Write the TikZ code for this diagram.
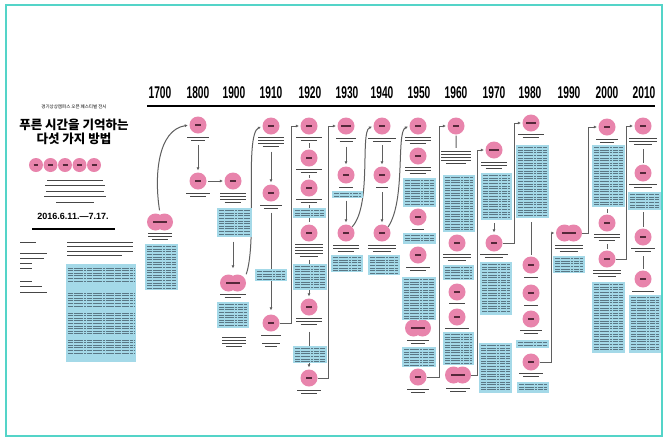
\documentclass[tikz,border=0pt]{standalone}
\usepackage{fontspec}
\newfontfamily\krfont{Noto Sans CJK KR}
\newfontfamily\yrfont{Liberation Sans}
\usetikzlibrary{arrows.meta}

\definecolor{pinkc}{RGB}{232,132,172}
\definecolor{boxc}{RGB}{164,217,232}
\definecolor{framec}{RGB}{84,212,200}
\definecolor{connc}{RGB}{95,95,95}
\definecolor{inkc}{RGB}{70,70,70}
\definecolor{boxinkc}{RGB}{60,78,92}
\definecolor{dotinkc}{RGB}{85,40,58}

\tikzset{
	ycirc/.style={circle, fill=pinkc, minimum size=17pt, inner sep=0pt, text=dotinkc},
	dblc/.style={rectangle, minimum width=26pt, minimum height=17pt, inner sep=0pt, text=dotinkc},
	infobox/.style={rectangle, fill=boxc, inner sep=0pt, outer sep=0pt},
	conn/.style={draw=connc, line width=1pt},
	arr/.style={conn, -{Latex[length=3pt,width=3pt]}},
	captxt/.style={draw=inkc, line width=1pt},
	boxtxt/.style={draw=boxinkc, line width=0.85pt, opacity=0.7, dash pattern=on 5pt off 0.7pt on 3pt off 0.7pt on 6pt off 0.7pt on 2pt off 0.7pt},
	yearlbl/.style={font=\yrfont\bfseries\fontsize{17}{17}\selectfont, inner sep=0pt}
}

\newcommand{\yl}{\rule{6pt}{1.8pt}}
\newcommand{\wl}{\rule{10pt}{1.8pt}}
\newcommand{\dblcirc}[3]{%
	\fill[pinkc] ({#2-4.5},#3) circle (8.5pt) ({#2+4.5},#3) circle (8.5pt);
	\node[dblc] (#1) at (#2,#3) {\rule{14pt}{1.8pt}};}
\newcommand{\captlines}[4]{%
	\foreach \k in {1,...,#4}{
		\pgfmathsetmacro{\f}{1-0.35*(\k==#4)*(#4>1)}
		\draw[captxt] ({#1-#3*\f/2},{#2+(\k-1)*3.2}) -- ({#1+#3*\f/2},{#2+(\k-1)*3.2});
	}}
\newcommand{\infobox}[5]{%
	\node[infobox, minimum width={#4-#2}, minimum height={#5-#3}] (#1) at ({(#2+#4)/2},{(#3+#5)/2}) {};
	\pgfmathtruncatemacro{\nl}{(#5-#3-4)/2.6}
	\foreach \k in {0,...,\nl}{
		\draw[boxtxt] ({#2+2},{#3+2.6+\k*2.6}) -- ({#4-2},{#3+2.6+\k*2.6});
	}}

\begin{document}
\begin{tikzpicture}[x=1pt, y=-1pt]
	\fill[white] (0,0) rectangle (664,440);
	\useasboundingbox (0,0) rectangle (664,440);
	\draw[framec, line width=1.2pt] (6,5) rectangle (662,436);

	% left panel
	\node[font=\krfont\fontsize{4.5}{5}\selectfont] (sub) at (74,107) {경기상상캠퍼스 오픈 페스티벌 전시};
	\node[font=\krfont\bfseries\fontsize{12.5}{13.5}\selectfont, align=center] (title) at (74,132) {푸른 시간을 기억하는\\다섯 가지 방법};
	\foreach \i/\xx in {1/36, 2/50.5, 3/65, 4/79.5, 5/94}{
		\node[ycirc, minimum size=14pt] (m\i) at (\xx,165) {\rule{5pt}{1.4pt}};
	}
	\foreach \yy/\w in {180/56, 185.5/60, 191/58, 196.5/62, 202/38}{
		\draw[captxt, line width=0.9pt] ({75-\w/2},\yy) -- ++(\w,0);
	}
	\node[font=\yrfont\bfseries\fontsize{9}{10}\selectfont] (date) at (73,216.5) {2016.6.11.—7.17.};
	\draw[line width=1.5pt] (32,229) -- (115,229);
	\foreach \yy/\w in {242/16, 253/27, 258/24, 263/12, 268/12, 281/12, 286/22, 292/27}{
		\draw[captxt, line width=0.9pt] (20,\yy) -- ++(\w,0);
	}
	\foreach \yy/\w in {242/66, 246.5/66, 251/66, 255.5/55}{
		\draw[captxt, line width=0.9pt] (67,\yy) -- ++(\w,0);
	}
	\node[infobox, minimum width=70pt, minimum height=98pt] (bleft) at (101,313) {};
	\foreach \ys/\n in {268/6, 293/6, 313/9, 340/6}{
		\foreach \k in {1,...,\n}{
			\draw[boxtxt] (68,{\ys+(\k-1)*2.6}) -- (134,{\ys+(\k-1)*2.6});
		}
	}

	% years
	\foreach \xx/\yr in {160/1700, 198/1800, 234/1900, 271/1910, 310/1920, 347/1930, 382/1940, 419/1950, 456/1960, 494/1970, 530/1980, 569/1990, 607/2000, 644/2010}{
		\node[yearlbl] (y\yr) at (\xx,93) {\scalebox{0.6}[1]{\yr}};
	}
	\draw[line width=1.6pt] (147,106) -- (655,106);

	% circles
	\dblcirc{c1700}{160}{222}
	\node[ycirc] (c1800a) at (198,125) {\yl};
	\node[ycirc] (c1800b) at (198,181) {\yl};
	\node[ycirc] (c1900a) at (233,181) {\yl};
	\dblcirc{c1900b}{233}{283}
	\node[ycirc] (c1910a) at (271,126) {\yl};
	\node[ycirc] (c1910b) at (271,193) {\yl};
	\node[ycirc] (c1910c) at (271,323) {\yl};
	\node[ycirc] (c1920a) at (309,126) {\yl};
	\node[ycirc] (c1920b) at (309,158) {\yl};
	\node[ycirc] (c1920c) at (309,188) {\yl};
	\node[ycirc] (c1920d) at (309,233) {\yl};
	\node[ycirc] (c1920e) at (309,307) {\yl};
	\node[ycirc] (c1920f) at (309,378) {\yl};
	\node[ycirc] (c1930a) at (346,126) {\wl};
	\node[ycirc] (c1930b) at (346,175) {\yl};
	\node[ycirc] (c1930c) at (346,233) {\yl};
	\node[ycirc] (c1940a) at (382,126) {\yl};
	\node[ycirc] (c1940b) at (382,175) {\yl};
	\node[ycirc] (c1940c) at (382,233) {\yl};
	\node[ycirc] (c1950a) at (418,126) {\yl};
	\node[ycirc] (c1950b) at (418,156) {\yl};
	\node[ycirc] (c1950c) at (418,217) {\yl};
	\node[ycirc] (c1950d) at (418,255) {\yl};
	\dblcirc{c1950e}{418}{328}
	\node[ycirc] (c1950f) at (418,377) {\yl};
	\node[ycirc] (c1960a) at (456,126) {\yl};
	\node[ycirc] (c1960b) at (457,243) {\yl};
	\node[ycirc] (c1960c) at (457,292) {\yl};
	\node[ycirc] (c1960d) at (457,317) {\yl};
	\dblcirc{c1960e}{458}{375}
	\node[ycirc] (c1970a) at (494,150) {\wl};
	\node[ycirc] (c1970b) at (494,243) {\yl};
	\node[ycirc] (c1980a) at (531,123) {\wl};
	\node[ycirc] (c1980b) at (531,265) {\yl};
	\node[ycirc] (c1980c) at (531,293) {\yl};
	\node[ycirc] (c1980d) at (531,319) {\yl};
	\node[ycirc] (c1980e) at (531,362) {\yl};
	\dblcirc{c1990}{569}{233}
	\node[ycirc] (c2000a) at (607,127) {\yl};
	\node[ycirc] (c2000b) at (607,223) {\yl};
	\node[ycirc] (c2000c) at (607,259) {\yl};
	\node[ycirc] (c2010a) at (643,126) {\yl};
	\node[ycirc] (c2010b) at (643,173) {\yl};
	\node[ycirc] (c2010c) at (643,237) {\yl};
	\node[ycirc] (c2010d) at (643,279) {\yl};

	% captions
	\captlines{160}{233}{24}{3}
	\captlines{198}{137}{22}{2}
	\captlines{198}{193}{24}{2}
	\captlines{233}{193}{26}{4}
	\captlines{233}{294}{26}{2}
	\captlines{234}{337}{24}{4}
	\captlines{271}{137}{26}{4}
	\captlines{271}{205}{22}{2}
	\captlines{271}{335}{20}{1}
	\captlines{271}{343}{18}{2}
	\captlines{309}{137}{26}{2}
	\captlines{309}{169}{26}{2}
	\captlines{309}{199}{26}{2}
	\captlines{309}{244}{28}{5}
	\captlines{309}{318}{26}{3}
	\captlines{309}{390}{24}{2}
	\captlines{346}{138}{20}{2}
	\captlines{346}{187}{14}{1}
	\captlines{346}{245}{26}{3}
	\captlines{382}{138}{28}{2}
	\captlines{382}{187}{12}{1}
	\captlines{382}{245}{28}{3}
	\captlines{418}{137}{26}{3}
	\captlines{418}{167}{26}{3}
	\captlines{418}{229}{12}{1}
	\captlines{418}{267}{24}{2}
	\captlines{418}{340}{22}{2}
	\captlines{418}{389}{22}{2}
	\captlines{456}{151}{30}{5}
	\captlines{457}{254}{28}{3}
	\captlines{457}{303}{16}{1}
	\captlines{457}{328}{24}{1}
	\captlines{458}{388}{24}{2}
	\captlines{494}{162}{26}{3}
	\captlines{494}{254}{28}{2}
	\captlines{531}{134}{26}{2}
	\captlines{531}{277}{14}{1}
	\captlines{531}{305}{14}{1}
	\captlines{531}{330}{22}{2}
	\captlines{531}{373}{24}{2}
	\captlines{569}{245}{28}{3}
	\captlines{607}{139}{22}{2}
	\captlines{607}{234}{26}{3}
	\captlines{607}{270}{28}{3}
	\captlines{643}{138}{28}{3}
	\captlines{643}{184}{28}{2}
	\captlines{643}{248}{24}{2}
	\captlines{643}{291}{22}{1}

	% connectors
	\draw[arr, shorten <=3pt, shorten >=1.5pt] (c1700.north) .. controls (154,175) and (158,130) .. (c1800a.west);
	\draw[arr, shorten <=11pt, shorten >=2pt] (c1800a) -- (c1800b);
	\draw[arr, shorten <=1.5pt, shorten >=1.5pt] (c1800b) -- (c1900a);
	\draw[arr, shorten <=52pt, shorten >=6pt] (c1900a) -- (c1900b);
	\draw[arr, shorten >=1.5pt] (c1900b.north east) .. controls (258,240) and (244,135) .. (c1910a.west);
	\draw[arr, shorten <=17pt, shorten >=2pt] (c1910a) -- (c1910b);
	\draw[arr, shorten <=11pt, shorten >=4pt] (c1910b) -- (c1910c);
	\draw[arr, shorten >=1.5pt] (c1910c.east) -- ++(11.5,0) |- (c1920a.west);
	\draw[conn, shorten <=8.5pt, shorten >=1.5pt] (c1920a) -- (c1920b);
	\draw[conn, shorten <=8.5pt, shorten >=1.5pt] (c1920b) -- (c1920c);
	\draw[conn, shorten <=8pt, shorten >=2pt] (c1920c) -- (c1920d);
	\draw[arr, shorten <=18pt, shorten >=2pt] (c1920d) -- (c1920e);
	\draw[arr, shorten <=16pt, shorten >=2pt] (c1920e) -- (c1920f);
	\draw[arr, shorten >=1.5pt] (c1920f.east) -- ++(11,0) |- (c1930a.west);
	\draw[arr, shorten <=12pt, shorten >=2pt] (c1930a) -- (c1930b);
	\draw[arr, shorten <=17pt, shorten >=2pt] (c1930b) -- (c1930c);
	\draw[arr, shorten >=1.5pt] (c1930c.north east) .. controls (372,205) and (360,132) .. (c1940a.west);
	\draw[arr, shorten <=10.5pt, shorten >=2pt] (c1940a) -- (c1940b);
	\draw[arr, shorten <=8.5pt, shorten >=2pt] (c1940b) -- (c1940c);
	\draw[arr, shorten >=1.5pt] (c1940c.north east) .. controls (406,200) and (396,132) .. (c1950a.west);
	\draw[arr, shorten >=1.5pt] (c1950f.east) -- ++(13,0) |- (c1960a.west);
	\draw[conn, shorten <=1pt, shorten >=86.5pt] (c1960a) -- (c1960b);
	\draw[arr, shorten >=1.5pt] (c1960e.east) -- ++(6,0) |- (c1970a.west);
	\draw[arr, shorten <=64.5pt, shorten >=2pt] (c1970a) -- (c1970b);
	\draw[arr, shorten >=1.5pt] (c1970b.east) -- ++(11.5,0) |- (c1980a.west);
	\draw[conn, shorten <=90.5pt, shorten >=1.5pt] (c1980a) -- (c1980b);
	\draw[arr, shorten >=1.5pt] (c1980e.east) -- ++(11.5,0) |- (c1990.west);
	\draw[arr, shorten >=1.5pt] (c1990.east) -- ++(6,0) |- (c2000a.west);
	\draw[conn, shorten <=73.5pt, shorten >=1pt] (c2000a) -- (c2000b);
	\draw[conn, shorten <=12.5pt, shorten >=1pt] (c2000b) -- (c2000c);
	\draw[arr, shorten >=1.5pt] (c2000c.east) -- ++(11,0) |- (c2010a.west);
	\draw[conn, shorten <=14.5pt, shorten >=1.5pt] (c2010a) -- (c2010b);
	\draw[conn, shorten <=30.5pt, shorten >=1.5pt] (c2010b) -- (c2010c);
	\draw[conn, shorten <=10.5pt, shorten >=1.5pt] (c2010c) -- (c2010d);

	% text boxes
	\infobox{b1700}{145}{244}{178}{290}
	\infobox{b1900a}{217}{208}{252}{237}
	\infobox{b1900b}{217}{302}{249}{328}
	\infobox{b1910}{255}{269}{287}{281}
	\infobox{b1920a}{293}{208}{326}{218}
	\infobox{b1920b}{293}{264}{327}{290}
	\infobox{b1920c}{293}{346}{327}{363}
	\infobox{b1930a}{332}{191}{363}{198}
	\infobox{b1930b}{331}{255}{363}{272}
	\infobox{b1940}{368}{255}{400}{275}
	\infobox{b1950a}{403}{178}{436}{207}
	\infobox{b1950b}{403}{233}{436}{244}
	\infobox{b1950c}{402}{277}{436}{320}
	\infobox{b1950d}{402}{347}{436}{367}
	\infobox{b1960a}{443}{175}{475}{232}
	\infobox{b1960b}{443}{265}{474}{280}
	\infobox{b1960c}{443}{332}{474}{365}
	\infobox{b1970a}{481}{173}{512}{220}
	\infobox{b1970b}{480}{262}{512}{315}
	\infobox{b1970c}{479}{343}{512}{393}
	\infobox{b1980a}{516}{145}{549}{218}
	\infobox{b1980b}{516}{340}{549}{348}
	\infobox{b1980c}{517}{382}{549}{393}
	\infobox{b1990}{553}{256}{585}{273}
	\infobox{b2000a}{592}{145}{625}{207}
	\infobox{b2000b}{592}{282}{625}{353}
	\infobox{b2010a}{628}{192}{661}{210}
	\infobox{b2010b}{629}{295}{661}{353}
\end{tikzpicture}
\end{document}
